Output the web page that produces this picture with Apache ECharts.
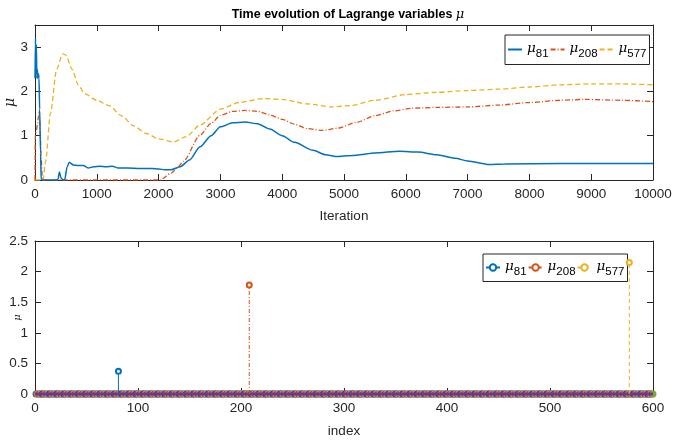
<!DOCTYPE html>
<html>
<head>
<meta charset="utf-8">
<script src="https://cdn.jsdelivr.net/npm/echarts@6/dist/echarts.min.js"></script>
<style>html,body{margin:0;padding:0;background:#fff}#c{width:691px;height:445px}</style>
</head>
<body>
<div id="c"></div>
<script>
// ---- Top panel: time evolution (iteration, value) ----
const mu81Iter = [0,8,15,22,30,38,45,55,65,75,90,100,370,395,420,450,480,520,555,620,700,780,860,950,1050,1150,1250,1350,1500,1700,1900,2000,2100,2200,2350,2500,2670,2850,3000,3200,3400,3600,3800,4000,4200,4500,4700,4900,5200,5500,5900,6200,6500,6800,7000,7350,7600,8500,10000];
const mu81Vals = [2.3,3.2,2.4,3.05,2.3,2.5,2.3,2.4,2.3,1.6,0.6,0,0,0.18,0.05,0,0,0.3,0.4,0.34,0.33,0.33,0.27,0.3,0.31,0.3,0.31,0.27,0.27,0.26,0.26,0.25,0.23,0.23,0.3,0.45,0.75,1.0,1.2,1.29,1.31,1.27,1.15,1.0,0.85,0.67,0.57,0.53,0.56,0.61,0.65,0.63,0.57,0.49,0.43,0.35,0.36,0.37,0.37];

const mu208Iter = [0,5,20,40,55,70,85,100,120,2020,2200,2300,2400,2670,2850,3000,3200,3400,3600,3800,4000,4200,4400,4650,4900,5200,5500,5800,6100,6500,7000,7500,8000,8500,8900,9500,10000];
const mu208Vals = [0,1.0,1.1,1.25,1.45,1.57,1.1,0.5,0,0,0.15,0.27,0.42,1.01,1.28,1.46,1.55,1.57,1.55,1.47,1.37,1.26,1.16,1.12,1.17,1.3,1.45,1.56,1.62,1.64,1.65,1.69,1.75,1.8,1.82,1.8,1.77];

const mu577Iter = [0,130,170,250,350,450,500,600,700,800,1000,1200,1400,1600,1800,2000,2240,2450,2670,3000,3300,3700,4000,4400,4800,5100,5500,6000,6500,7000,7500,8000,8500,9000,9500,10000];
const mu577Vals = [0,0,0.4,1.5,2.5,2.85,2.82,2.5,2.15,1.95,1.8,1.68,1.45,1.22,1.05,0.93,0.86,0.98,1.24,1.6,1.75,1.84,1.82,1.72,1.65,1.68,1.8,1.93,1.98,2.02,2.05,2.1,2.15,2.17,2.17,2.15];

// ---- Bottom panel: final values per index ----
const indexCount = 600;
const baselineValue = 0;
const stemIndex = [81, 208, 577];
const stemValue = [0.37, 1.78, 2.15];
const stemLabels = ['81', '208', '577'];

const topXTicks = [0,1000,2000,3000,4000,5000,6000,7000,8000,9000,10000];
const topYTicks = [0,1,2,3];
const botXTicks = [0,100,200,300,400,500,600];
const botYTicks = [0,0.5,1,1.5,2,2.5];

const C = ['#0072BD','#D95319','#EDB120','#7E2F8E','#77AC30','#4DBEEE','#A2142F'];
const AX = '#262626';
const FONT = "'Liberation Sans', Arial, Helvetica, sans-serif";

function pairs(xs, ys){ return xs.map((x,i)=>[x, ys[i]]); }

const baseline = [];
for (let i = 1; i <= indexCount; i++) baseline.push([i, baselineValue]);

function axisCommon(extra){
  return Object.assign({
    axisLine:{show:true, onZero:false, lineStyle:{color:AX, width:1}},
    axisTick:{show:true, inside:true, length:6, lineStyle:{color:AX, width:1}},
    splitLine:{show:false},
    nameMoveOverlap:false,
    axisLabel:{color:AX, fontSize:13.5, fontFamily:FONT, margin:7, formatter:v=>String(v)}
  }, extra);
}

const rich = {
  m:{fontSize:13.5, fontStyle:'italic', fontFamily:"'DejaVu Serif', serif", color:'#000', padding:[0,0,3,0]},
  s:{fontSize:11.5, fontFamily:FONT, color:'#000', padding:[8,0,0,0]}
};
function legendFmt(name){ return '{m|μ}{s|' + name.slice(1) + '}'; }

const option = {
  backgroundColor:'#fff',
  animation:false,
  title:{
    text:'{b|Time evolution of Lagrange variables }{m|μ}',
    left:343, textAlign:'center', top:3,
    textStyle:{rich:{
      b:{fontSize:12.5, fontWeight:'bold', fontFamily:FONT, color:'#000'},
      m:{fontSize:13, fontWeight:'normal', fontStyle:'italic', fontFamily:"'DejaVu Serif', serif", color:'#000'}
    }}
  },
  grid:[
    {left:35, right:38, top:25, height:155, containLabel:false, outerBoundsMode:'none'},
    {left:35, right:38, top:241, height:153, containLabel:false, outerBoundsMode:'none'}
  ],
  xAxis:[
    axisCommon({gridIndex:0, type:'value', min:0, max:10000, interval:1000, position:'bottom',
      name:'Iteration', nameLocation:'middle', nameGap:29, nameTextStyle:{color:AX, fontSize:13.5, fontFamily:FONT}}),
    axisCommon({gridIndex:0, type:'value', min:0, max:10000, interval:1000, position:'top', axisLabel:{show:false}}),
    axisCommon({gridIndex:1, type:'value', min:0, max:600, interval:100, position:'bottom',
      name:'index', nameLocation:'middle', nameGap:30, nameTextStyle:{color:AX, fontSize:13.5, fontFamily:FONT}}),
    axisCommon({gridIndex:1, type:'value', min:0, max:600, interval:100, position:'top', axisLabel:{show:false}})
  ],
  yAxis:[
    axisCommon({gridIndex:0, type:'value', min:0, max:3.5, interval:1, position:'left',
      axisLabel:{color:AX, fontSize:13.5, fontFamily:FONT, margin:7, showMaxLabel:false,
        formatter:v=> (topYTicks.indexOf(v) >= 0 ? String(v) : '')},
      name:'μ', nameLocation:'middle', nameGap:18, nameRotate:90,
      nameTextStyle:{color:AX, fontSize:14, fontStyle:'italic', fontFamily:"'DejaVu Serif', serif"}}),
    axisCommon({gridIndex:0, type:'value', min:0, max:3.5, interval:1, position:'right', axisLabel:{show:false}}),
    axisCommon({gridIndex:1, type:'value', min:0, max:2.5, interval:0.5, position:'left',
      name:'μ', nameLocation:'middle', nameGap:13, nameRotate:90,
      nameTextStyle:{color:AX, fontSize:10, fontStyle:'italic', fontFamily:"'DejaVu Serif', serif"}}),
    axisCommon({gridIndex:1, type:'value', min:0, max:2.5, interval:0.5, position:'right', axisLabel:{show:false}})
  ],
  legend:[
    {left:505, top:35, padding:[6,3,5,2], itemGap:1, itemWidth:14, itemHeight:8,
     backgroundColor:'#fff', borderColor:AX, borderWidth:1, borderRadius:0,
     itemStyle:{opacity:0},
     data:['a81','a208','a577'], formatter:legendFmt, textStyle:{rich:rich}, selectedMode:false},
    {left:483, top:254, padding:[5,3,4,2], itemGap:1, itemWidth:14, itemHeight:8,
     backgroundColor:'#fff', borderColor:AX, borderWidth:1, borderRadius:0,
     data:['b81','b208','b577'], formatter:legendFmt, textStyle:{rich:rich}, selectedMode:false}
  ],
  series:[
    {name:'a81', type:'line', xAxisIndex:0, yAxisIndex:0, data:pairs(mu81Iter, mu81Vals), showSymbol:false, symbol:'none',
     smooth:0.25, smoothMonotone:'x', lineStyle:{color:C[0], width:1.5, type:'solid'}, itemStyle:{color:C[0]}, z:5},
    {name:'a208', type:'line', xAxisIndex:0, yAxisIndex:0, data:pairs(mu208Iter, mu208Vals), showSymbol:false, symbol:'none',
     smooth:0.25, smoothMonotone:'x', lineStyle:{color:C[1], width:1.3, type:[5,2,1,2]}, itemStyle:{color:C[1]}, z:4},
    {name:'a577', type:'line', xAxisIndex:0, yAxisIndex:0, data:pairs(mu577Iter, mu577Vals), showSymbol:false, symbol:'none',
     smooth:0.25, smoothMonotone:'x', lineStyle:{color:C[2], width:1.3, type:[5,3]}, itemStyle:{color:C[2]}, z:3},

    {type:'scatter', xAxisIndex:2, yAxisIndex:2, data:baseline, symbol:'circle', symbolSize:7, clip:false, silent:true,
     itemStyle:{color:p=>C[p.dataIndex % 7], opacity:1}, z:2},
    {type:'line', xAxisIndex:2, yAxisIndex:2, data:[[0,baselineValue],[indexCount,baselineValue]], symbol:'none', clip:false, silent:true,
     lineStyle:{color:'#7E2F8E', width:3}, z:3},

    {name:'b81', type:'line', xAxisIndex:2, yAxisIndex:2, clip:false,
     data:[{value:[stemIndex[0],0], symbol:'none'},{value:[stemIndex[0],stemValue[0]]}],
     symbol:'emptyCircle', symbolSize:5, showSymbol:true, lineStyle:{color:C[0], width:1, type:'solid'}, itemStyle:{color:C[0], borderWidth:1.2}, z:6},
    {name:'b208', type:'line', xAxisIndex:2, yAxisIndex:2, clip:false,
     data:[{value:[stemIndex[1],0], symbol:'none'},{value:[stemIndex[1],stemValue[1]]}],
     symbol:'emptyCircle', symbolSize:5, showSymbol:true, lineStyle:{color:C[1], width:1, type:[4,2,1,2]}, itemStyle:{color:C[1], borderWidth:1.2}, z:6},
    {name:'b577', type:'line', xAxisIndex:2, yAxisIndex:2, clip:false,
     data:[{value:[stemIndex[2],0], symbol:'none'},{value:[stemIndex[2],stemValue[2]]}],
     symbol:'emptyCircle', symbolSize:5, showSymbol:true, lineStyle:{color:C[2], width:1, type:[4,3]}, itemStyle:{color:C[2], borderWidth:1.2}, z:6}
  ]
};

const chart = echarts.init(document.getElementById('c'), null, {renderer:'canvas'});
chart.setOption(option);
</script>
</body>
</html>
